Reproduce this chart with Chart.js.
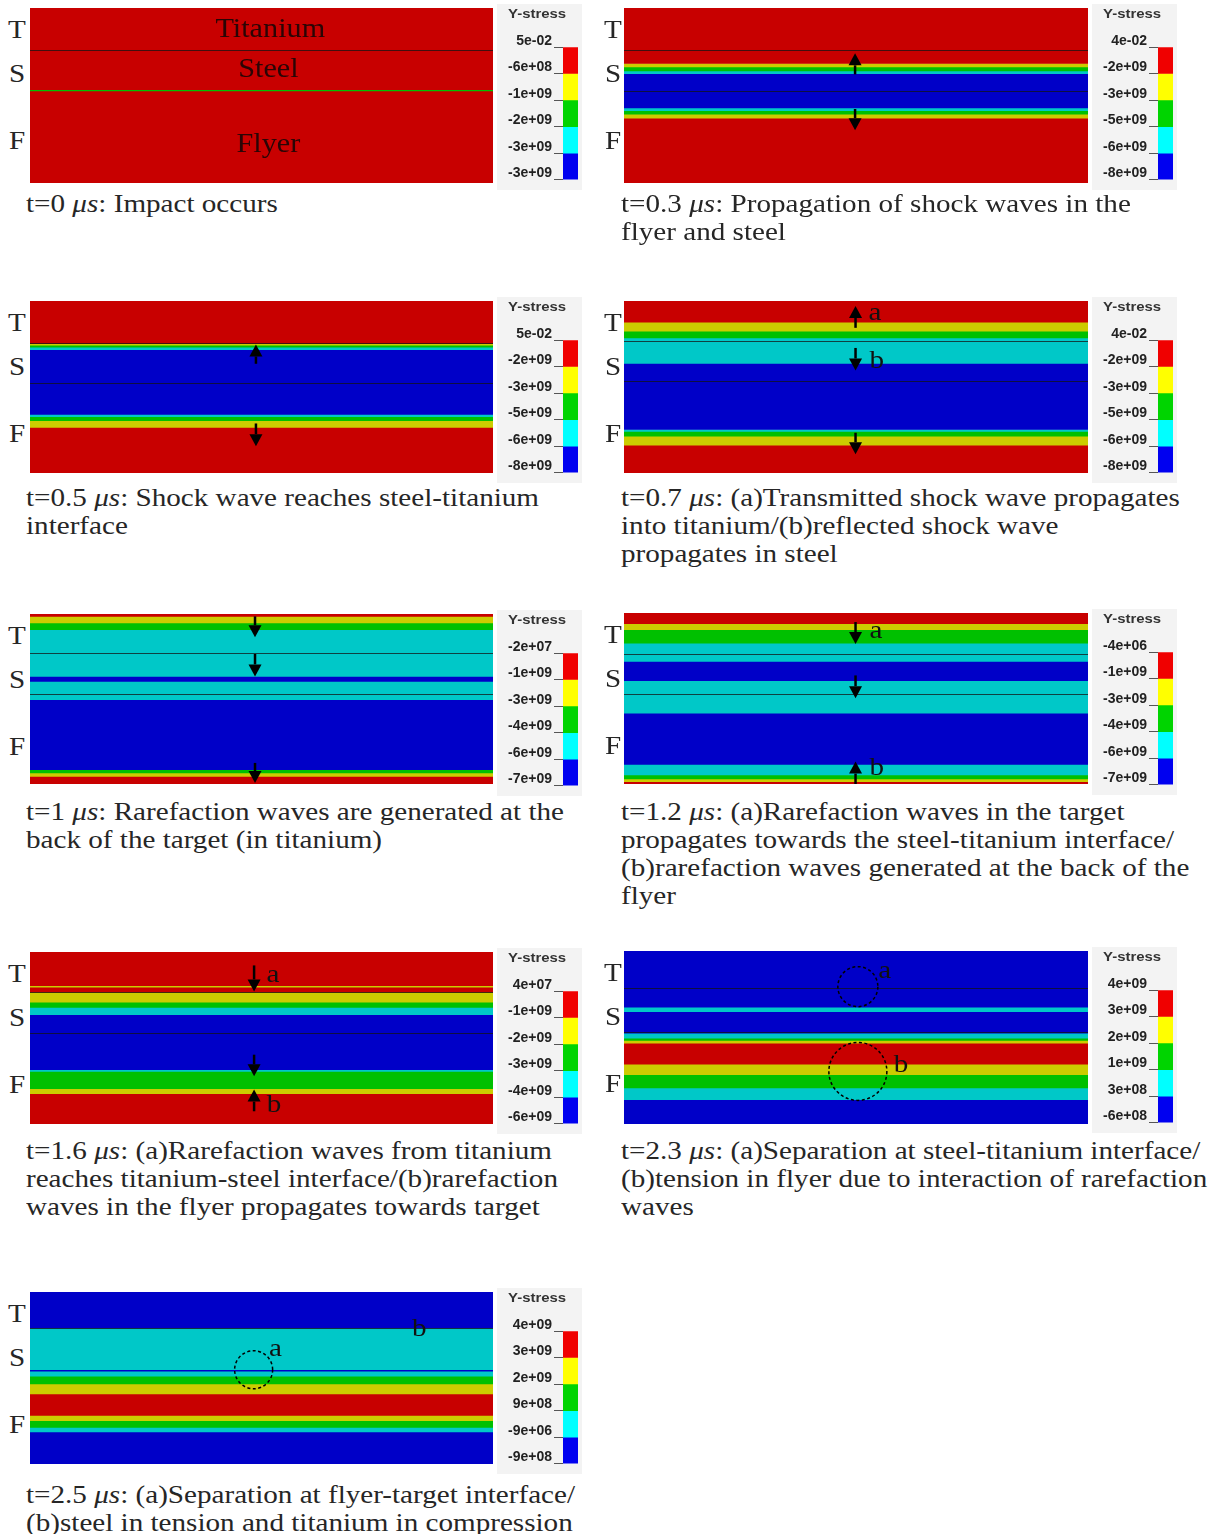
<!DOCTYPE html>
<html>
<head>
<meta charset="utf-8">
<script src="https://cdn.jsdelivr.net/npm/chart.js@4.4.1/dist/chart.umd.min.js"></script>
<style>
  html, body { margin: 0; padding: 0; background: #fff; }
  body { position: relative; width: 1221px; height: 1534px; overflow: hidden;
         font-family: "Liberation Serif", "Times New Roman", serif; }
  canvas { position: absolute; display: block; }
  .cb { background: #f3f3f3; }
  .cap { position: absolute; font-size: 26px; line-height: 28px; color: #262626; white-space: nowrap;
         transform: scaleX(1.12); transform-origin: 0 0; }
  .lay { position: absolute; font-size: 26px; line-height: 26px; color: #262626;
         transform: translate(-50%, -50%) scaleX(1.12); }
  .ys { position: absolute; font: bold 13px "Liberation Sans", Arial, sans-serif; color: #333;
        transform: scaleX(1.15); transform-origin: 0 0; }
</style>
</head>
<body>
<script>
// ---- Y-stress contour bands, listed from the top of each panel (% of thickness) ----
// colour codes: R red, Y yellow, G green, C cyan, B blue
const times = ['0', '0.3', '0.5', '0.7', '1', '1.2', '1.6', '2.3', '2.5'];

const edges0 = [0, 46.6, 47.4, 100];
const codes0 = 'RGR';
const edges1 = [0, 31.7, 33.7, 36.0, 37.5, 57.1, 58.7, 60.6, 62.9, 100];
const codes1 = 'RYGCBCGYR';
const edges2 = [0, 24.8, 25.7, 26.9, 28.3, 65.9, 67.3, 69.6, 73.5, 100];
const codes2 = 'RYGCBCGYR';
const edges3 = [0, 12.3, 17.5, 21.4, 36.3, 74.7, 75.8, 78.6, 83.8, 100];
const codes3 = 'RYGCBCGYR';
const edges4 = [0, 1.4, 5.3, 9.2, 36.7, 39.6, 50.4, 91.6, 93.5, 95.5, 100];
const codes4 = 'RYGCBCBGYR';
const edges5 = [0, 6.3, 9.8, 17.6, 28.3, 39.6, 58.6, 88.5, 94.7, 97.1, 98.6, 100];
const codes5 = 'RYGCBCBCGYR';
const edges6 = [0, 19.6, 20.5, 23.4, 29.1, 32.2, 36.4, 68.4, 69.4, 79.5, 82.4, 100];
const codes6 = 'RYRYGCBCGYR';
const edges7 = [0, 32.5, 35.0, 47.5, 50.4, 51.7, 53.3, 65.4, 71.5, 79.2, 86.0, 100];
const codes7 = 'BCBCGYRYGCB';
const edges8 = [0, 20.9, 45.1, 46.0, 49.0, 53.5, 59.3, 71.7, 74.8, 78.7, 81.4, 100];
const codes8 = 'BCBCGYRYGCB';

// material interfaces (titanium/steel, steel/flyer), % from top
const interfaces = [[23.8], [24.0, 47.5], [24.4, 47.4], [23.4, 46.8], [22.9, 47.1],
                    [23.8, 47.5], [23.4, 47.1], [21.5, 46.9], [20.9]];

// colour-bar tick labels, top to bottom
const ticks0 = ['5e-02', '-6e+08', '-1e+09', '-2e+09', '-3e+09', '-3e+09'];
const ticks1 = ['4e-02', '-2e+09', '-3e+09', '-5e+09', '-6e+09', '-8e+09'];
const ticks2 = ['5e-02', '-2e+09', '-3e+09', '-5e+09', '-6e+09', '-8e+09'];
const ticks3 = ['4e-02', '-2e+09', '-3e+09', '-5e+09', '-6e+09', '-8e+09'];
const ticks4 = ['-2e+07', '-1e+09', '-3e+09', '-4e+09', '-6e+09', '-7e+09'];
const ticks5 = ['-4e+06', '-1e+09', '-3e+09', '-4e+09', '-6e+09', '-7e+09'];
const ticks6 = ['4e+07', '-1e+09', '-2e+09', '-3e+09', '-4e+09', '-6e+09'];
const ticks7 = ['4e+09', '3e+09', '2e+09', '1e+09', '3e+08', '-6e+08'];
const ticks8 = ['4e+09', '3e+09', '2e+09', '9e+08', '-9e+06', '-9e+08'];

// wave arrows: [x fraction, tail %, head %]
const arrows = [[], [[0.498, 37.9, 25.9], [0.498, 57.7, 69.8]],
  [[0.488, 36.5, 25.3], [0.488, 71.2, 84.4]],
  [[0.499, 15.6, 2.9], [0.499, 27.3, 40.4], [0.499, 76.6, 89.1]],
  [[0.486, 1.4, 13.7], [0.486, 23.5, 36.7], [0.486, 87.6, 99.4]],
  [[0.499, 5.3, 18.2], [0.499, 36.5, 49.8], [0.499, 100, 86.9]],
  [[0.484, 7.8, 22.9], [0.484, 59.7, 72.3], [0.484, 92.6, 80.0]], [], []];

// annotation letters: [text, x fraction, y %]
const letters = [[], [], [], [['a', 0.541, 6.8], ['b', 0.545, 35.1]], [],
  [['a', 0.543, 10.7], ['b', 0.545, 90.8]], [['a', 0.525, 13.6], ['b', 0.527, 88.8]],
  [['a', 0.562, 11.5], ['b', 0.597, 65.8]], [['a', 0.530, 33.5], ['b', 0.841, 21.9]]];
const materials = [['Titanium', 0.519, 12.4], ['Steel', 0.515, 35.2], ['Flyer', 0.515, 78.1]];

// dashed circles: [x fraction, y %, radius px]
const circles = [[], [], [], [], [], [], [], [[0.504, 20.6, 20], [0.504, 69.6, 29]], [[0.483, 45.2, 19]]];

const captions = [
  [': Impact occurs'],
  [': Propagation of shock waves in the', 'flyer and steel'],
  [': Shock wave reaches steel-titanium', 'interface'],
  [': (a)Transmitted shock wave propagates', 'into titanium/(b)reflected shock wave', 'propagates in steel'],
  [': Rarefaction waves are generated at the', 'back of the target (in titanium)'],
  [': (a)Rarefaction waves in the target', 'propagates towards the steel-titanium interface/', '(b)rarefaction waves generated at the back of the', 'flyer'],
  [': (a)Rarefaction waves from titanium', 'reaches titanium-steel interface/(b)rarefaction', 'waves in the flyer propagates towards target'],
  [': (a)Separation at steel-titanium interface/', '(b)tension in flyer due to interaction of rarefaction', 'waves'],
  [': (a)Separation at flyer-target interface/', '(b)steel in tension and titanium in compression']
];

const bandEdges = [edges0, edges1, edges2, edges3, edges4, edges5, edges6, edges7, edges8];
const bandCodes = [codes0, codes1, codes2, codes3, codes4, codes5, codes6, codes7, codes8];
const barTicks = [ticks0, ticks1, ticks2, ticks3, ticks4, ticks5, ticks6, ticks7, ticks8];

const fieldColors = { R: '#c80000', Y: '#cccc00', G: '#00c000', C: '#00c8c8', B: '#0000c8' };
const legendColors = ['#f00000', '#ffff00', '#00d400', '#00ffff', '#0000f0'];

// panel frames on the page
const frames = [
  { x: 30, y: 8, w: 463, h: 175, cap: 190 }, { x: 624, y: 8, w: 464, h: 175, cap: 190 },
  { x: 30, y: 301, w: 463, h: 172, cap: 484 }, { x: 624, y: 301, w: 464, h: 172, cap: 484 },
  { x: 30, y: 614, w: 463, h: 170, cap: 798 }, { x: 624, y: 613, w: 464, h: 171, cap: 798 },
  { x: 30, y: 952, w: 463, h: 172, cap: 1137 }, { x: 624, y: 951, w: 464, h: 173, cap: 1137 },
  { x: 30, y: 1292, w: 463, h: 172, cap: 1481 }
];

// serif text, widened slightly to the figure's proportions
function wideText(ctx, s, x, y) {
  ctx.save(); ctx.translate(x, y); ctx.scale(1.12, 1); ctx.fillText(s, 0, 0); ctx.restore();
}

// draws interfaces, arrows, circles and letters on top of the bands
const overlay = {
  id: 'overlay',
  afterDatasetsDraw(chart, args, o) {
    const ctx = chart.ctx, a = chart.chartArea, ys = chart.scales.y;
    const X = f => a.left + f * (a.right - a.left);
    ctx.save();
    ctx.strokeStyle = 'rgba(20,20,20,0.75)';
    ctx.lineWidth = 1;
    o.interfaces.forEach(v => {
      const y = Math.round(ys.getPixelForValue(v)) + 0.5;
      ctx.beginPath(); ctx.moveTo(a.left, y); ctx.lineTo(a.right, y); ctx.stroke();
    });
    ctx.fillStyle = '#000'; ctx.strokeStyle = '#000';
    o.arrows.forEach(([f, t, h]) => {
      const x = X(f), yt = ys.getPixelForValue(t), yh = ys.getPixelForValue(h);
      const dir = yh > yt ? 1 : -1, hl = 12, hw = 6.5;
      ctx.lineWidth = 2.5;
      ctx.beginPath(); ctx.moveTo(x, yt); ctx.lineTo(x, yh - dir * hl); ctx.stroke();
      ctx.beginPath(); ctx.moveTo(x, yh); ctx.lineTo(x - hw, yh - dir * hl); ctx.lineTo(x + hw, yh - dir * hl);
      ctx.closePath(); ctx.fill();
    });
    ctx.lineWidth = 1.5; ctx.setLineDash([3, 2.5]);
    o.circles.forEach(([f, v, r]) => {
      ctx.beginPath(); ctx.arc(X(f), ys.getPixelForValue(v), r, 0, Math.PI * 2); ctx.stroke();
    });
    ctx.setLineDash([]);
    ctx.textAlign = 'center'; ctx.textBaseline = 'middle';
    ctx.font = '26px "Liberation Serif", serif'; ctx.fillStyle = '#111';
    o.letters.forEach(([s, f, v]) => wideText(ctx, s, X(f), ys.getPixelForValue(v)));
    ctx.font = '27px "Liberation Serif", serif'; ctx.fillStyle = '#2a0505';
    o.materials.forEach(([s, f, v]) => wideText(ctx, s, X(f), ys.getPixelForValue(v)));
    ctx.restore();
  }
};

function addCanvas(x, y, w, h, cls) {
  const c = document.createElement('canvas');
  c.width = w; c.height = h;
  c.style.left = x + 'px'; c.style.top = y + 'px';
  if (cls) c.className = cls;
  document.body.appendChild(c);
  return c;
}
function addDiv(cls, x, y, html) {
  const d = document.createElement('div');
  d.className = cls; d.style.left = x + 'px'; d.style.top = y + 'px'; d.innerHTML = html;
  document.body.appendChild(d);
  return d;
}

frames.forEach((fr, i) => {
  // contour field
  const edges = bandEdges[i];
  const datasets = bandCodes[i].split('').map((c, k) => ({
    data: [[edges[k], edges[k + 1]]], backgroundColor: fieldColors[c],
    borderWidth: 0, barPercentage: 1, categoryPercentage: 1, grouped: false
  }));
  new Chart(addCanvas(fr.x, fr.y, fr.w, fr.h), {
    type: 'bar',
    data: { labels: [''], datasets },
    options: {
      responsive: false, animation: false, events: [],
      layout: { padding: 0 },
      plugins: {
        legend: { display: false }, tooltip: { enabled: false },
        overlay: { interfaces: interfaces[i], arrows: arrows[i], circles: circles[i],
                   letters: letters[i], materials: i === 0 ? materials : [] }
      },
      scales: { x: { display: false }, y: { display: false, reverse: true, min: 0, max: 100 } }
    },
    plugins: [overlay]
  });

  // colour bar
  const labels = barTicks[i];
  const cbx = fr.x + fr.w + 4;
  new Chart(addCanvas(cbx, fr.y - 4, 85, 186, 'cb'), {
    type: 'bar',
    data: {
      labels: [''],
      datasets: legendColors.map((c, k) => ({
        data: [[k, k + 1]], backgroundColor: c, borderWidth: 0,
        barPercentage: 1, categoryPercentage: 1, grouped: false
      }))
    },
    options: {
      responsive: false, animation: false, events: [],
      layout: { padding: { top: 43, bottom: 9, right: 4, left: 0 } },
      plugins: { legend: { display: false }, tooltip: { enabled: false } },
      scales: {
        x: { display: false },
        y: {
          reverse: true, min: 0, max: 5,
          afterBuildTicks: s => { s.ticks = [0, 1, 2, 3, 4, 5].map(v => ({ value: v })); },
          afterFit: s => { s.width = 66; },
          border: { display: false },
          grid: { drawOnChartArea: false, drawTicks: true, tickLength: 9, color: '#555', lineWidth: 1 },
          ticks: { padding: 2, labelOffset: -6, color: '#222',
                   font: { family: '"Liberation Sans", Arial, sans-serif', size: 14, weight: 'bold' },
                   callback: v => labels[v] }
        }
      }
    }
  });
  addDiv('ys', cbx + 11, fr.y - 2, 'Y-stress');

  // layer letters
  const lx = fr.x < 100 ? 17 : 613;
  addDiv('lay', lx, fr.y + 22, 'T');
  addDiv('lay', lx, fr.y + 66, 'S');
  addDiv('lay', lx, fr.y + 133, 'F');

  // caption
  const lines = captions[i].slice();
  lines[0] = 't=' + times[i] + ' <i>μs</i>' + lines[0];
  addDiv('cap', fr.x < 100 ? 26 : 621, fr.cap, lines.join('<br>'));
});
</script>
</body>
</html>
